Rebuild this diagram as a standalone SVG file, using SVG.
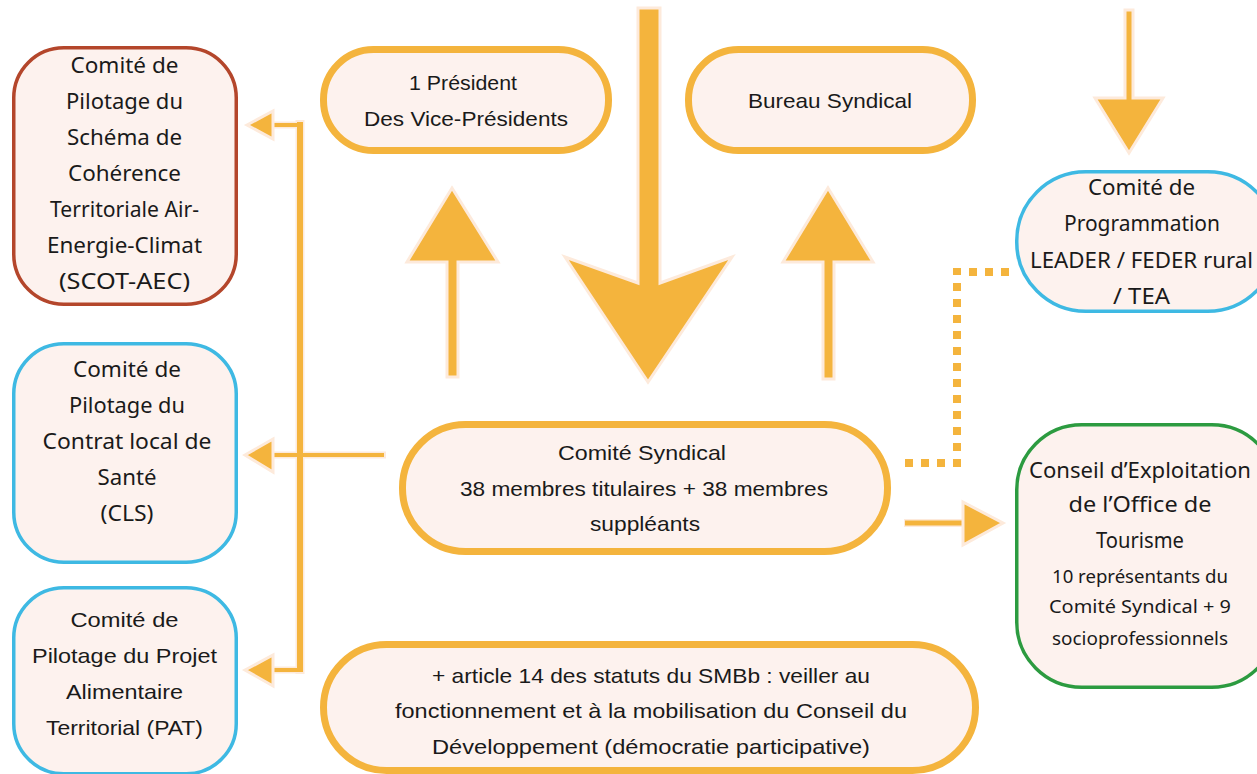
<svg xmlns="http://www.w3.org/2000/svg" width="1257" height="774" viewBox="0 0 1257 774">
<defs>
<style>
.box{fill:#FDF2EE;}
.ob{stroke:#F4B43D;stroke-width:7;}
.rb{stroke:#B4462B;stroke-width:3.5;}
.bb{stroke:#3EB9E3;stroke-width:3.5;}
.gb{stroke:#2C9B40;stroke-width:3.5;}
.arr{fill:#F4B43D;stroke:#FDEADB;stroke-width:3;stroke-linejoin:miter;}
.halo{stroke:#FDEADB;fill:none;}
.ln{stroke:#F4B43D;fill:none;}
.dot{stroke:#F4B43D;stroke-width:8;stroke-dasharray:8 8;fill:none;}
.w{font-family:"Noto Sans","Liberation Sans",sans-serif;font-size:21px;fill:#1a1a1a;text-anchor:middle;}
.ws{font-family:"Noto Sans","Liberation Sans",sans-serif;font-size:18px;fill:#1a1a1a;text-anchor:middle;}
.c{font-family:"Liberation Sans","Noto Sans",sans-serif;font-size:21px;fill:#1a1a1a;text-anchor:middle;}
</style>
</defs>
<rect width="1257" height="774" fill="#ffffff"/>

<g id="connectors">
  <!-- big down arrow -->
  <polygon class="arr" points="638,8 660,8 660,283 732,257 648,382 565,257 638,283"/>
  <!-- up arrows -->
  <polygon class="arr" points="452,188 498,262 458,262 458,377 447,377 447,262 407,262"/>
  <polygon class="arr" points="828,188 873,262 834,262 834,379 823,379 823,262 783,262"/>
  <!-- top right down arrow -->
  <polygon class="arr" points="1125,10 1133,10 1133,98 1163,98 1129,153 1095,98 1125,98"/>
  <!-- left bracket connector -->
  <line class="halo" x1="300" y1="120" x2="300" y2="674" stroke-width="9"/>
  <line class="halo" x1="272" y1="125" x2="302" y2="125" stroke-width="7"/>
  <line class="halo" x1="272" y1="455" x2="386" y2="455" stroke-width="7"/>
  <line class="halo" x1="272" y1="670" x2="302" y2="670" stroke-width="7"/>
  <line class="ln" x1="272" y1="125" x2="300" y2="125" stroke-width="4"/>
  <line class="ln" x1="272" y1="455" x2="384" y2="455" stroke-width="4"/>
  <line class="ln" x1="272" y1="670" x2="300" y2="670" stroke-width="4"/>
  <line class="ln" x1="300" y1="122" x2="300" y2="672" stroke-width="6"/>
  <polygon class="arr" points="247,125 273,111 273,139"/>
  <polygon class="arr" points="245,455 273,439 273,472"/>
  <polygon class="arr" points="245,670 273,655 273,686"/>
  <!-- dotted connector -->
  <line class="dot" x1="905" y1="463" x2="953" y2="463"/>
  <line class="dot" x1="957" y1="467" x2="957" y2="268"/>
  <line class="dot" x1="969" y1="272" x2="1012" y2="272"/>
  <!-- right arrow -->
  <line class="halo" x1="904" y1="523" x2="966" y2="523" stroke-width="8"/>
  <line class="ln" x1="905" y1="523" x2="965" y2="523" stroke-width="5"/>
  <polygon class="arr" points="963,502 1003,523 963,545"/>
</g>

<g id="scot">
  <rect class="box rb" x="13.75" y="47.75" width="222.5" height="256.5" rx="50"/>
  <text class="w" x="124.5" y="73" textLength="108" lengthAdjust="spacingAndGlyphs">Comité de</text>
  <text class="w" x="124.5" y="109" textLength="117" lengthAdjust="spacingAndGlyphs">Pilotage du</text>
  <text class="w" x="124.5" y="145" textLength="115" lengthAdjust="spacingAndGlyphs">Schéma de</text>
  <text class="w" x="124.5" y="181" textLength="113" lengthAdjust="spacingAndGlyphs">Cohérence</text>
  <text class="w" x="124.5" y="217" textLength="149" lengthAdjust="spacingAndGlyphs">Territoriale Air-</text>
  <text class="w" x="124.5" y="253" textLength="155" lengthAdjust="spacingAndGlyphs">Energie-Climat</text>
  <text class="w" x="124.5" y="289" textLength="131" lengthAdjust="spacingAndGlyphs">(SCOT-AEC)</text>
</g>

<g id="cls">
  <rect class="box bb" x="13.75" y="343.75" width="222.5" height="218.5" rx="50"/>
  <text class="w" x="127" y="377" textLength="108" lengthAdjust="spacingAndGlyphs">Comité de</text>
  <text class="w" x="127" y="413" textLength="116" lengthAdjust="spacingAndGlyphs">Pilotage du</text>
  <text class="w" x="127" y="449" textLength="169" lengthAdjust="spacingAndGlyphs">Contrat local de</text>
  <text class="w" x="127" y="485" textLength="59" lengthAdjust="spacingAndGlyphs">Santé</text>
  <text class="w" x="127" y="521" textLength="53" lengthAdjust="spacingAndGlyphs">(CLS)</text>
</g>

<g id="pat">
  <rect class="box bb" x="13.75" y="587.75" width="222.5" height="186" rx="50"/>
  <text class="c" x="124.5" y="627" textLength="108" lengthAdjust="spacingAndGlyphs">Comité de</text>
  <text class="c" x="124.5" y="663" textLength="185" lengthAdjust="spacingAndGlyphs">Pilotage du Projet</text>
  <text class="c" x="124.5" y="699" textLength="117" lengthAdjust="spacingAndGlyphs">Alimentaire</text>
  <text class="c" x="124.5" y="735" textLength="157" lengthAdjust="spacingAndGlyphs">Territorial (PAT)</text>
</g>

<g id="president">
  <rect class="box ob" x="323.5" y="49.5" width="285" height="101" rx="50"/>
  <text class="c" x="463" y="90" textLength="108" lengthAdjust="spacingAndGlyphs">1 Président</text>
  <text class="c" x="466" y="126" textLength="204" lengthAdjust="spacingAndGlyphs">Des Vice-Présidents</text>
</g>

<g id="bureau">
  <rect class="box ob" x="688.5" y="49.5" width="284" height="101" rx="50"/>
  <text class="c" x="830" y="108" textLength="164" lengthAdjust="spacingAndGlyphs">Bureau Syndical</text>
</g>

<g id="comite-syndical">
  <rect class="box ob" x="402.5" y="424.5" width="485" height="127" rx="63"/>
  <text class="c" x="642" y="460" textLength="168" lengthAdjust="spacingAndGlyphs">Comité Syndical</text>
  <text class="c" x="644" y="496" textLength="368" lengthAdjust="spacingAndGlyphs">38 membres titulaires + 38 membres</text>
  <text class="c" x="645" y="531" textLength="110" lengthAdjust="spacingAndGlyphs">suppléants</text>
</g>

<g id="article">
  <rect class="box ob" x="323.5" y="644.5" width="652" height="126" rx="63"/>
  <text class="c" x="651" y="683" textLength="438" lengthAdjust="spacingAndGlyphs">+ article 14 des statuts du SMBb : veiller au</text>
  <text class="c" x="651" y="718" textLength="512" lengthAdjust="spacingAndGlyphs">fonctionnement et à la mobilisation du Conseil du</text>
  <text class="c" x="651" y="754" textLength="438" lengthAdjust="spacingAndGlyphs">Développement (démocratie participative)</text>
</g>

<g id="programmation">
  <rect class="box bb" x="1016.75" y="171.75" width="260" height="139.5" rx="69"/>
  <text class="w" x="1141.5" y="195" textLength="107" lengthAdjust="spacingAndGlyphs">Comité de</text>
  <text class="w" x="1142" y="231" textLength="156" lengthAdjust="spacingAndGlyphs">Programmation</text>
  <text class="w" x="1141.5" y="268" textLength="223" lengthAdjust="spacingAndGlyphs">LEADER / FEDER rural</text>
  <text class="w" x="1141.5" y="304" textLength="57" lengthAdjust="spacingAndGlyphs">/ TEA</text>
</g>

<g id="conseil">
  <rect class="box gb" x="1016.75" y="424.75" width="260" height="262.5" rx="65"/>
  <text class="w" x="1140" y="478" textLength="222" lengthAdjust="spacingAndGlyphs">Conseil d’Exploitation</text>
  <text class="w" x="1140" y="512" textLength="143" lengthAdjust="spacingAndGlyphs">de l’Office de</text>
  <text class="w" x="1140" y="548" textLength="88" lengthAdjust="spacingAndGlyphs">Tourisme</text>
  <text class="ws" x="1140" y="583" textLength="176" lengthAdjust="spacingAndGlyphs">10 représentants du</text>
  <text class="ws" x="1140" y="613" textLength="182" lengthAdjust="spacingAndGlyphs">Comité Syndical + 9</text>
  <text class="ws" x="1140" y="645" textLength="176" lengthAdjust="spacingAndGlyphs">socioprofessionnels</text>
</g>
</svg>
